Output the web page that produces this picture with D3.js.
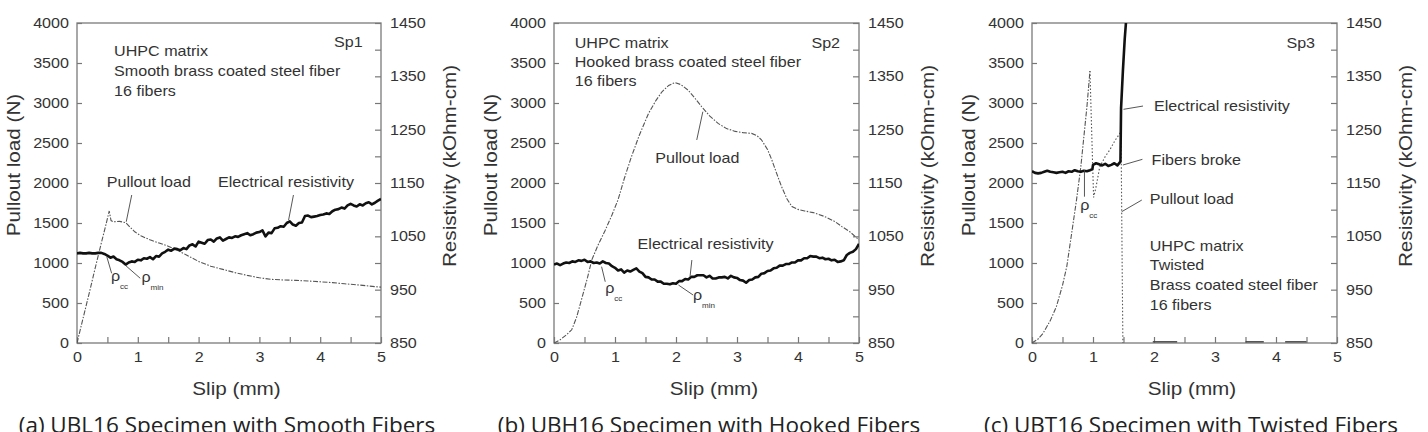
<!DOCTYPE html>
<html lang="en">
<head>
<meta charset="utf-8">
<title>Pullout load and electrical resistivity vs slip</title>
<script src="https://cdn.jsdelivr.net/npm/d3@7"></script>
<style>
  body { margin: 0; background: #fff; }
  svg { display: block; }
  text { font-family: "Liberation Sans", Arial, sans-serif; fill: #333; }
  .caption { font-family: "Open Sans", sans-serif; fill: #222; }
  .tick line { stroke: #777; stroke-width: 1.2; }
</style>
</head>
<body>

<svg width="1428" height="432"></svg>

<script>
// ---- ticks ----
var slipTicks = [0, 0.5, 1, 1.5, 2, 2.5, 3, 3.5, 4, 4.5, 5];
var slipLabels = [0, 1, 2, 3, 4, 5];
var loadTicks = [0, 500, 1000, 1500, 2000, 2500, 3000, 3500, 4000];
var resTicks = [850, 900, 950, 1000, 1050, 1100, 1150, 1200, 1250, 1300, 1350, 1400, 1450];
var resLabels = [850, 950, 1050, 1150, 1250, 1350, 1450];

// ---- Sp1 : smooth fibers ----
// pullout load [slip mm, N]
var sp1Load = [[0,0],[0.1,310],[0.2,620],[0.3,940],[0.4,1250],[0.47,1460],[0.53,1650],[0.56,1530],
  [0.6,1515],[0.7,1520],[0.8,1505],[0.87,1450],[0.95,1390],[1.05,1340],[1.2,1290],[1.35,1250],
  [1.5,1210],[1.65,1160],[1.8,1100],[2.0,1020],[2.2,960],[2.4,920],[2.6,880],[2.8,845],[3.0,815],
  [3.2,795],[3.4,788],[3.6,783],[3.8,775],[4.0,765],[4.2,755],[4.4,740],[4.6,728],[4.8,712],[5.0,698]];
// resistivity (kOhm-cm), sampled every 0.05 mm
var sp1ResStep = 0.05;
var sp1Res = [
  1018,1019,1018,1018,1019,1018,1018,1019,1019,1017,1014,1010,1012,1007,1005,1002,997,1001,1003,1002,
  1006,1005,1009,1008,1011,1007,1013,1012,1018,1021,1025,1023,1027,1026,1024,1028,1026,1033,1035,1031,
  1040,1038,1036,1043,1044,1040,1046,1048,1042,1045,1048,1047,1050,1049,1052,1054,1056,1052,1054,1057,
  1058,1061,1050,1057,1056,1065,1066,1069,1068,1075,1078,1072,1070,1075,1076,1088,1089,1086,1087,1088,
  1090,1091,1093,1092,1097,1100,1101,1104,1102,1108,1111,1108,1106,1110,1108,1112,1114,1110,1113,1117,
  1120];

// ---- Sp2 : hooked fibers ----
var sp2Load = [[0,0],[0.1,40],[0.2,100],[0.29,165],[0.37,320],[0.45,540],[0.55,820],[0.62,1040],
  [0.72,1220],[0.84,1410],[0.95,1600],[1.05,1790],[1.15,2050],[1.27,2330],[1.4,2600],[1.55,2870],
  [1.67,3030],[1.77,3140],[1.88,3220],[1.98,3255],[2.08,3230],[2.2,3160],[2.3,3070],[2.42,2955],
  [2.55,2840],[2.69,2745],[2.83,2680],[2.97,2645],[3.1,2630],[3.24,2620],[3.33,2590],[3.4,2540],
  [3.5,2420],[3.57,2290],[3.65,2120],[3.73,1955],[3.82,1800],[3.9,1705],[4.0,1670],[4.11,1650],
  [4.25,1630],[4.44,1580],[4.6,1520],[4.72,1455],[4.85,1390],[5.0,1290]];
var sp2ResStep = 0.05;
var sp2Res = [
  997,999,996,999,1001,1000,1003,1002,1005,1004,1006,1002,1003,1000,1001,999,1003,1000,999,994,
  991,986,988,982,986,984,987,990,984,981,974,973,969,969,965,965,961,961,960,962,
  961,966,966,970,969,974,974,977,977,977,973,976,971,971,973,973,974,971,976,973,
  972,968,967,963,968,969,973,974,980,981,985,986,990,991,995,995,998,998,1001,1001,
  1005,1005,1009,1009,1013,1012,1012,1009,1010,1007,1008,1005,1006,1002,1003,1005,1015,1019,1021,1026,
  1036];

// ---- Sp3 : twisted fibers ----
var sp3LoadRise = [[0,0],[0.1,50],[0.18,120],[0.3,280],[0.4,455],[0.5,720],[0.57,955],[0.65,1370],
  [0.73,1790],[0.8,2200],[0.84,2500],[0.9,2950],[0.95,3400]];
var sp3LoadFall = [[0.95,3400],[0.98,2600],[1.01,1820],[1.05,1950],[1.11,2200],[1.2,2330],[1.28,2420],
  [1.36,2530],[1.44,2620],[1.46,2600],[1.47,1700],[1.48,800],[1.49,0]];
var sp3LoadTail = [[1.98,2.38],[3.5,3.8],[4.15,4.5]];
var sp3Res = [[0,1172],[0.05,1169],[0.1,1168],[0.15,1169],[0.2,1171],[0.25,1173],[0.3,1171],[0.35,1170],
  [0.4,1169],[0.45,1170],[0.5,1171],[0.55,1169],[0.6,1172],[0.65,1171],[0.7,1174],[0.75,1172],
  [0.8,1171],[0.85,1173],[0.9,1172],[0.95,1174],[0.99,1176],[1.0,1184],[1.05,1187],[1.1,1185],
  [1.15,1183],[1.2,1186],[1.25,1182],[1.3,1184],[1.35,1187],[1.4,1183],[1.45,1190],[1.46,1290],
  [1.49,1360],[1.52,1420],[1.56,1480]];

function stepped(vals, step) {
  return vals.map(function(v, i) { return [i * step, v]; });
}

// ---- layout ----
var plotTop = 23, plotBottom = 343, SX = 1.15;
var panels = [
  {left: 77, right: 381, capX: 227, caption: "(a) UBL16 Specimen with Smooth Fibers",
   load: [sp1Load], fall: null, res: stepped(sp1Res, sp1ResStep),
   spec: {t: "Sp1", s: 4.70, L: 3700},
   notes: [["UHPC matrix", 0.61, 3587], ["Smooth brass coated steel fiber", 0.61, 3337], ["16 fibers", 0.61, 3087],
           ["Pullout load", 0.49, 1950], ["Electrical resistivity", 2.32, 1950]],
   leaders: [[0.90, 1850, 0.81, 1516], [3.56, 1850, 3.48, 1537], [0.49, 1079, 0.57, 871], [0.79, 975, 1.04, 809]],
   rhos: [[0.56, 775, "cc"], [1.06, 762, "min"]]},
  {left: 554, right: 859, capX: 709, caption: "(b) UBH16 Specimen with Hooked Fibers",
   load: [sp2Load], fall: null, res: stepped(sp2Res, sp2ResStep),
   spec: {t: "Sp2", s: 4.69, L: 3688},
   notes: [["UHPC matrix", 0.34, 3688], ["Hooked brass coated steel fiber", 0.34, 3450], ["16 fibers", 0.34, 3212],
           ["Pullout load", 1.66, 2246], ["Electrical resistivity", 1.37, 1171]],
   leaders: [[2.34, 2538, 2.44, 2891], [2.26, 1037, 2.23, 829], [0.78, 954, 0.84, 766], [2.04, 725, 2.28, 600]],
   rhos: [[0.84, 625, "cc"], [2.28, 537, "min"]]},
  {left: 1032, right: 1337, capX: 1191, caption: "(c) UBT16 Specimen with Twisted Fibers",
   load: [sp3LoadRise], fall: sp3LoadFall, res: sp3Res,
   spec: {t: "Sp3", s: 4.64, L: 3688},
   notes: [["Electrical resistivity", 2.0, 2904], ["Fibers broke", 1.96, 2225], ["Pullout load", 1.93, 1737],
           ["UHPC matrix", 1.93, 1156], ["Twisted", 1.93, 909], ["Brass coated steel fiber", 1.93, 661], ["16 fibers", 1.93, 414]],
   leaders: [[1.82, 2962, 1.50, 2921], [1.81, 2296, 1.49, 2225], [1.80, 1787, 1.47, 1641], [0.86, 2162, 0.86, 1829]],
   rhos: [[0.79, 1662, "cc"]]}
];

var svg = d3.select("svg");

function txt(g, x, y, s, size, anchor, rot) {
  return g.append("text")
    .attr("transform", "translate(" + x + "," + y + ")" + (rot ? " rotate(" + rot + ")" : "") + " scale(" + SX + ",1)")
    .attr("text-anchor", anchor || "start")
    .attr("fill", "#333")
    .style("font-size", size + "px")
    .text(s);
}

panels.forEach(function(p, i) {
  var g = svg.append("g");
  var x = d3.scaleLinear().domain([0, 5]).range([p.left, p.right]);
  var yL = d3.scaleLinear().domain([0, 4000]).range([plotBottom, plotTop]);
  var yR = d3.scaleLinear().domain([850, 1450]).range([plotBottom, plotTop]);

  g.append("clipPath").attr("id", "clip" + i)
    .append("rect").attr("x", p.left).attr("y", plotTop)
    .attr("width", p.right - p.left).attr("height", plotBottom - plotTop);

  // axes
  var xAxis = d3.axisBottom(x).tickValues(slipTicks)
    .tickFormat(function(d) { return slipLabels.indexOf(d) >= 0 ? d : ""; })
    .tickSizeInner(-6).tickSizeOuter(0).tickPadding(8.7);
  var lAxis = d3.axisLeft(yL).tickValues(loadTicks).tickFormat(d3.format("d"))
    .tickSizeInner(-5).tickSizeOuter(0).tickPadding(7);
  var rAxis = d3.axisRight(yR).tickValues(resTicks)
    .tickFormat(function(d) { return resLabels.indexOf(d) >= 0 ? d : ""; })
    .tickSizeInner(-6).tickSizeOuter(0).tickPadding(7.8);

  [[xAxis, "translate(0," + plotBottom + ")"], [lAxis, "translate(" + p.left + ",0)"], [rAxis, "translate(" + p.right + ",0)"]]
    .forEach(function(a) {
      var ag = g.append("g").attr("transform", a[1]).call(a[0]);
      ag.attr("font-size", null).attr("font-family", null);
      ag.select(".domain").remove();
      ag.selectAll("text").attr("transform", "scale(" + SX + ",1)")
        .style("font-size", "14px").attr("fill", "#333");
    });

  g.append("rect").attr("x", p.left).attr("y", plotTop)
    .attr("width", p.right - p.left).attr("height", plotBottom - plotTop)
    .attr("fill", "none").attr("stroke", "#7a7a7a").attr("stroke-width", 1.3);

  // axis titles
  txt(g, (p.left + p.right) / 2 + 7.5, 395, "Slip (mm)", 18, "middle");
  txt(g, p.left - 57.5, 165, "Pullout load (N)", 18, "middle", -90);
  txt(g, p.right + 75, 166, "Resistivity (kOhm-cm)", 18, "middle", -90);

  g.append("text").attr("class", "caption")
    .attr("x", p.capX).attr("y", 433).attr("text-anchor", "middle")
    .style("font-size", "22.5px").text(p.caption);

  // curves
  var plot = g.append("g").attr("clip-path", "url(#clip" + i + ")");
  var loadLine = d3.line().x(function(d) { return x(d[0]); }).y(function(d) { return yL(d[1]); });
  var resLine = d3.line().x(function(d) { return x(d[0]); }).y(function(d) { return yR(d[1]); });

  p.load.forEach(function(s) {
    plot.append("path").datum(s).attr("d", loadLine)
      .attr("fill", "none").attr("stroke", "#555").attr("stroke-width", 1.1)
      .attr("stroke-dasharray", "5,1.5,1.5,1.5");
  });
  if (p.fall) {
    plot.append("path").datum(p.fall).attr("d", loadLine)
      .attr("fill", "none").attr("stroke", "#555").attr("stroke-width", 1.1)
      .attr("stroke-dasharray", "1.5,2");
    plot.selectAll(".tail").data(sp3LoadTail).enter().append("line")
      .attr("x1", function(d) { return x(d[0]); }).attr("x2", function(d) { return x(d[1]); })
      .attr("y1", yL(15)).attr("y2", yL(15))
      .attr("stroke", "#444").attr("stroke-width", 1.4);
  }
  plot.append("path").datum(p.res).attr("d", resLine)
    .attr("fill", "none").attr("stroke", "#111").attr("stroke-width", 2.6)
    .attr("stroke-linejoin", "round");

  // annotations
  txt(g, x(p.spec.s), yL(p.spec.L), p.spec.t, 14, "end");
  p.notes.forEach(function(n) { txt(g, x(n[1]), yL(n[2]), n[0], 14); });
  p.leaders.forEach(function(l) {
    g.append("line").attr("x1", x(l[0])).attr("y1", yL(l[1]))
      .attr("x2", x(l[2])).attr("y2", yL(l[3]))
      .attr("stroke", "#444").attr("stroke-width", 0.9);
  });
  p.rhos.forEach(function(r) {
    txt(g, x(r[0]), yL(r[1]), "\u03c1", 14);
    txt(g, x(r[0]) + 9, yL(r[1]) + 8, r[2], 7);
  });
});
</script>
</body>
</html>
